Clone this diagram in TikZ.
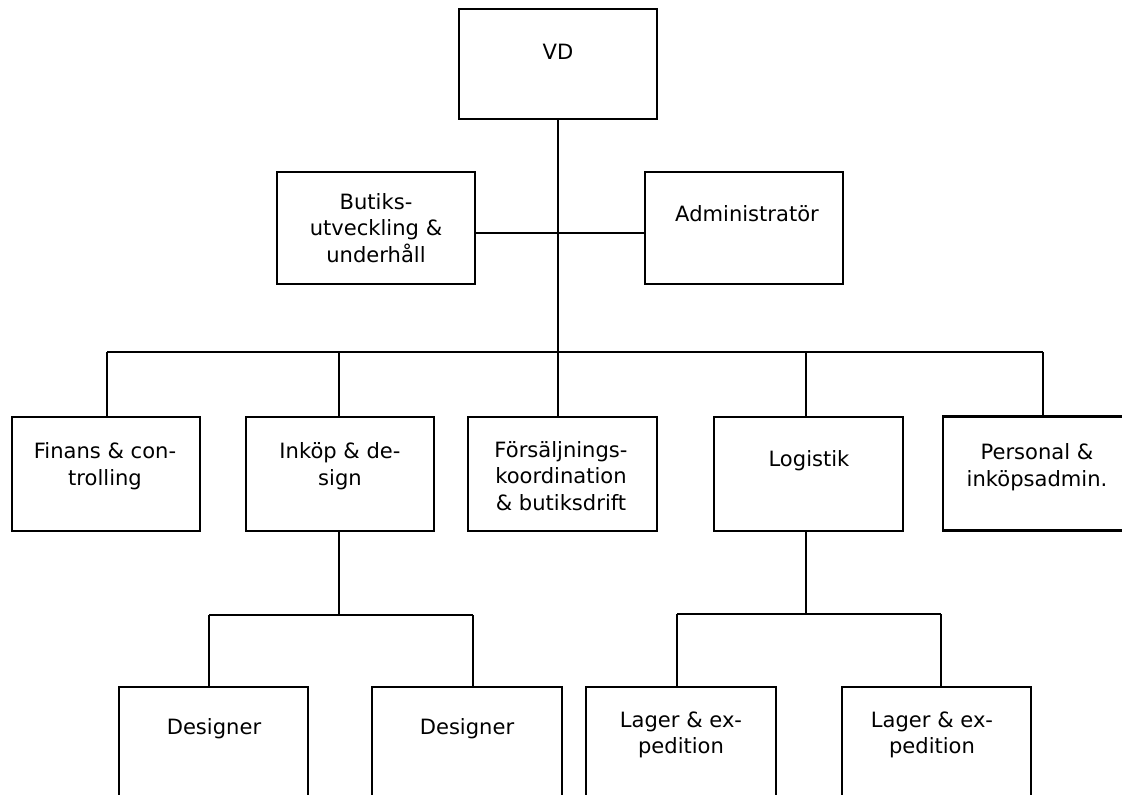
\documentclass[tikz,border=0pt]{standalone}
\usepackage{fontspec}
\setmainfont{DejaVu Sans}
\begin{document}
\begin{tikzpicture}[x=0.75pt,y=-0.75pt,
  box/.style={draw=black,line width=1.7pt,inner sep=0pt,fill=none},
  txt/.style={inner sep=0pt,align=center,font=\fontsize{15.8pt}{20pt}\selectfont},
  conn/.style={draw=black,line width=1.35pt}]
\useasboundingbox (0,0) rectangle (1122,795);
\clip (0,0) rectangle (1122,795);
% boxes
\node[box,minimum width=148.5pt,minimum height=82.5pt] (vd) at (558,64) {};
\node[box,minimum width=148.5pt,minimum height=84pt] (butiks) at (376,228) {};
\node[box,minimum width=148.5pt,minimum height=84pt] (admin) at (744,228) {};
\node[box,minimum width=141pt,minimum height=85.5pt] (finans) at (106,474) {};
\node[box,minimum width=141pt,minimum height=85.5pt] (inkop) at (340,474) {};
\node[box,minimum width=141.75pt,minimum height=85.5pt] (fors) at (562.5,474) {};
\node[box,minimum width=141.75pt,minimum height=85.5pt] (logistik) at (808.5,474) {};
\node[box,minimum width=144pt,minimum height=85.5pt] (personal) at (1039,473.5) {};
\node[box,minimum width=141.75pt,minimum height=88.5pt] (des1) at (213.5,746) {};
\node[box,minimum width=142.5pt,minimum height=88.5pt] (des2) at (467,746) {};
\node[box,minimum width=142.5pt,minimum height=88.5pt] (lag1) at (681,746) {};
\node[box,minimum width=141.75pt,minimum height=88.5pt] (lag2) at (936.5,746) {};
% texts
\node[txt] (vdt) at (558,52) {VD};
\node[txt] (butikst) at (376,228) {Butiks-\\utveckling \&\\underhåll};
\node[txt] (admint) at (747,214) {Administratör};
\node[txt] (finanst) at (105,466) {Finans \& con-\\trolling};
\node[txt] (inkopt) at (340,466) {Inköp \& de-\\sign};
\node[txt] (forst) at (561,476) {Försäljnings-\\koordination\\\& butiksdrift};
\node[txt] (logistikt) at (809,461) {Logistik};
\node[txt] (personalt) at (1037,467) {Personal \&\\inköpsadmin.};
\node[txt] (des1t) at (214,729) {Designer};
\node[txt] (des2t) at (467,729) {Designer};
\node[txt] (lag1t) at (681,735) {Lager \& ex-\\pedition};
\node[txt] (lag2t) at (932,735) {Lager \& ex-\\pedition};
% connectors
\coordinate (top) at (558,352);
\coordinate (h) at (558,233);
\draw[conn] (vd.south) -- (top);
\draw[conn] (butiks.east |- h) -- (admin.west |- h);
\coordinate (d1) at (107,352);
\coordinate (d2) at (339,352);
\coordinate (d3) at (558,352);
\coordinate (d4) at (806,352);
\coordinate (d5) at (1043,352);
\draw[conn] (d1) -- (d5);
\draw[conn] (d1) -- (d1 |- finans.north);
\draw[conn] (d2) -- (d2 |- inkop.north);
\draw[conn] (d3) -- (d3 |- fors.north);
\draw[conn] (d4) -- (d4 |- logistik.north);
\draw[conn] (d5) -- (d5 |- personal.north);
% Inköp subtree
\coordinate (i) at (339,615);
\coordinate (e1) at (209,615);
\coordinate (e2) at (473,615);
\draw[conn] (inkop.south -| i) -- (i);
\draw[conn] (e1) -- (e2);
\draw[conn] (e1) -- (e1 |- des1.north);
\draw[conn] (e2) -- (e2 |- des2.north);
% Logistik subtree
\coordinate (l) at (806,614);
\coordinate (f1) at (677,614);
\coordinate (f2) at (941,614);
\draw[conn] (logistik.south -| l) -- (l);
\draw[conn] (f1) -- (f2);
\draw[conn] (f1) -- (f1 |- lag1.north);
\draw[conn] (f2) -- (f2 |- lag2.north);
\end{tikzpicture}
\end{document}
